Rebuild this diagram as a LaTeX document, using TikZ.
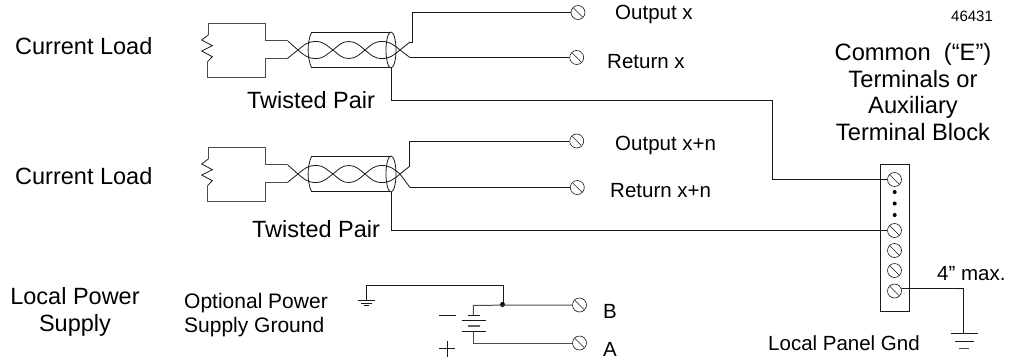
\documentclass[tikz,border=0pt]{standalone}
\usepackage{fontspec}
\setmainfont{Liberation Sans}
\begin{document}
\begin{tikzpicture}[x=1pt,y=-1pt,
  wire/.style={line width=0.8pt,black!90},
  heavy/.style={line width=1pt,black!70},
  screw/.style={circle,draw=black!90,line width=0.6pt,minimum size=14pt,inner sep=0pt,
    path picture={\draw[black!90,line width=0.6pt] ([xshift=-4.5pt,yshift=4.5pt]path picture bounding box.center) -- ([xshift=4.5pt,yshift=-4.5pt]path picture bounding box.center);}},
  label/.style={font=\fontsize{23.5}{27}\selectfont,inner sep=0pt,anchor=west},
  small/.style={font=\fontsize{20.5}{24}\selectfont,inner sep=0pt,anchor=west},
  jdot/.style={circle,fill=black,inner sep=0pt,minimum size=5pt}]
\useasboundingbox (0,0) rectangle (1013,360);
\tikzset{
 pair/.pic={
  \draw[heavy] (208.3,-15) -- (208.3,-26.7) -- (265.7,-26.7) -- (265.7,-9.5) -- (287.3,-9.5);
  \draw[heavy] (207.5,11.7) -- (207.5,27.5) -- (265.7,27.5) -- (265.7,8.5) -- (287.3,8.5);
  \draw[wire] (287.3,-9.5) -- (298,0) .. controls (305,-6) and (308,-8.5) .. (316,-8.5) .. controls (324,-8.5) and (327,-4) .. (333,0) .. controls (339,5) and (342,8.5) .. (349,8.5) .. controls (356,8.5) and (360,4) .. (365,0) .. controls (371,-5) and (374,-8.5) .. (382,-8.5) .. controls (390,-8.5) and (394,-5) .. (400,0) -- (410,\lowend);
  \draw[wire] (287.3,8.5) -- (298,0) .. controls (305,6) and (308,8.5) .. (316,8.5) .. controls (324,8.5) and (327,4) .. (333,0) .. controls (339,-5) and (342,-8.5) .. (349,-8.5) .. controls (356,-8.5) and (360,-4) .. (365,0) .. controls (371,5) and (374,8.5) .. (382,8.5) .. controls (390,8.5) and (394,5) .. (400,0) -- (410,-8);
  \draw[wire] (208.3,-15) -- (201.7,-10) -- (212.3,-4.3) -- (201.7,1) -- (212.3,6.7) -- (207.5,11.7);
  \draw[wire] (390,-17.5) -- (311.5,-17.5) .. controls (307,-8) and (307,8) .. (311.5,17.5) -- (390,17.5);
  \draw[wire] (391,0) ellipse (5 and 18);
 }}
\def\lowend{7.5}
\pic at (0,50) {pair};
\def\lowend{13.5}
\pic at (0,174) {pair};
% terminals
\node[screw] (tox) at (578,12.5) {};
\node[screw] (trx) at (576.7,57.5) {};
\node[screw] (toxn) at (576.7,141) {};
\node[screw] (trxn) at (577.3,187.5) {};
\node[screw] (tb) at (579.5,305) {};
\node[screw] (ta) at (579.5,343) {};
\node[screw] (s1) at (894.5,179.5) {};
\node[screw] (s2) at (894.5,230.5) {};
\node[screw] (s3) at (894.5,250.5) {};
\node[screw] (s4) at (894.5,270.5) {};
\node[screw] (s5) at (894.5,291) {};
\draw[wire] (880.7,164.5) rectangle (909.7,311.5);
\foreach \y in {192,203.5,215} \fill (894.7,\y) circle (2);
% wires
\draw[wire] (410,42) -- (412,42) -- (412,12.5) -- (tox.west);
\draw[wire] (410,57.5) -- (trx.west);
\draw[wire] (391,68) -- (391,100.5) -- (772,100.5) -- (772,179.5) -- (s1.west);
\draw[wire] (409,166.5) -- (409,141) -- (toxn.west);
\draw[wire] (410,187.5) -- (trxn.west);
\draw[wire] (391.5,192) -- (391.5,230.5) -- (s2.west);
\draw[wire] (s5.20) -- (963.5,288.6) -- (963.5,333);
% grounds
\draw[wire] (950.7,333) -- (978.3,333) (955,341.5) -- (974,341.5);
\draw[heavy] (959,348.5) -- (969,348.5);
% power
\draw[wire] (366,300.7) -- (366,285.5) -- (503,285.5) -- (503,305);
\draw[wire] (358,300.7) -- (375,300.7) (360.5,303.5) -- (372,303.5) (363.5,305.5) -- (369,305.5);
\node[jdot] (j) at (502.5,304.5) {};
\draw[heavy] (473.3,315) -- (473.3,305.3) -- (tb.west);
\draw[heavy] (473.3,331) -- (473.3,343) -- (ta.west);
\draw[wire] (468,315) -- (480,315) (462,320) -- (486,320) (462,331) -- (486,331);
\draw[line width=1.2pt,black!60] (468,326) -- (480,326);
\draw[wire] (439,315.7) -- (456,315.7) (439,348.7) -- (455,348.7) (447,340.7) -- (447,356.7);
% text
\node[label] (t1) at (15,46.5) {Current Load};
\node[label] (t2) at (15,176) {Current Load};
\node[label,anchor=center] (t3) at (311,100) {Twisted Pair};
\node[label,anchor=center] (t4) at (316,229) {Twisted Pair};
\node[small] (t5) at (615,14) {Output x};
\node[small] (t6) at (607,62) {Return x};
\node[small] (t7) at (615,145) {Output x+n};
\node[small] (t8) at (610,190.5) {Return x+n};
\node[inner sep=0pt,anchor=west,font=\fontsize{15}{17}\selectfont] (t9) at (951,16) {46431};
\node[align=center,inner sep=0pt,font=\fontsize{23.7}{26.7}\selectfont] (t10) at (913,92) {Common\ \ (``E'')\\Terminals or\\Auxiliary\\Terminal Block};
\node[align=center,inner sep=0pt,font=\fontsize{23.5}{27.5}\selectfont] (t11) at (75,312) {Local Power\\Supply};
\node[inner sep=0pt,align=left,font=\fontsize{21}{24}\selectfont] (t12) at (256,315) {Optional Power\\Supply Ground};
\node[small] (t13) at (603,311) {B};
\node[small] (t14) at (603,349) {A};
\node[small] (t15) at (768,343) {Local Panel Gnd};
\node[small] (t16) at (937,274) {4'' max.};
\end{tikzpicture}
\end{document}
